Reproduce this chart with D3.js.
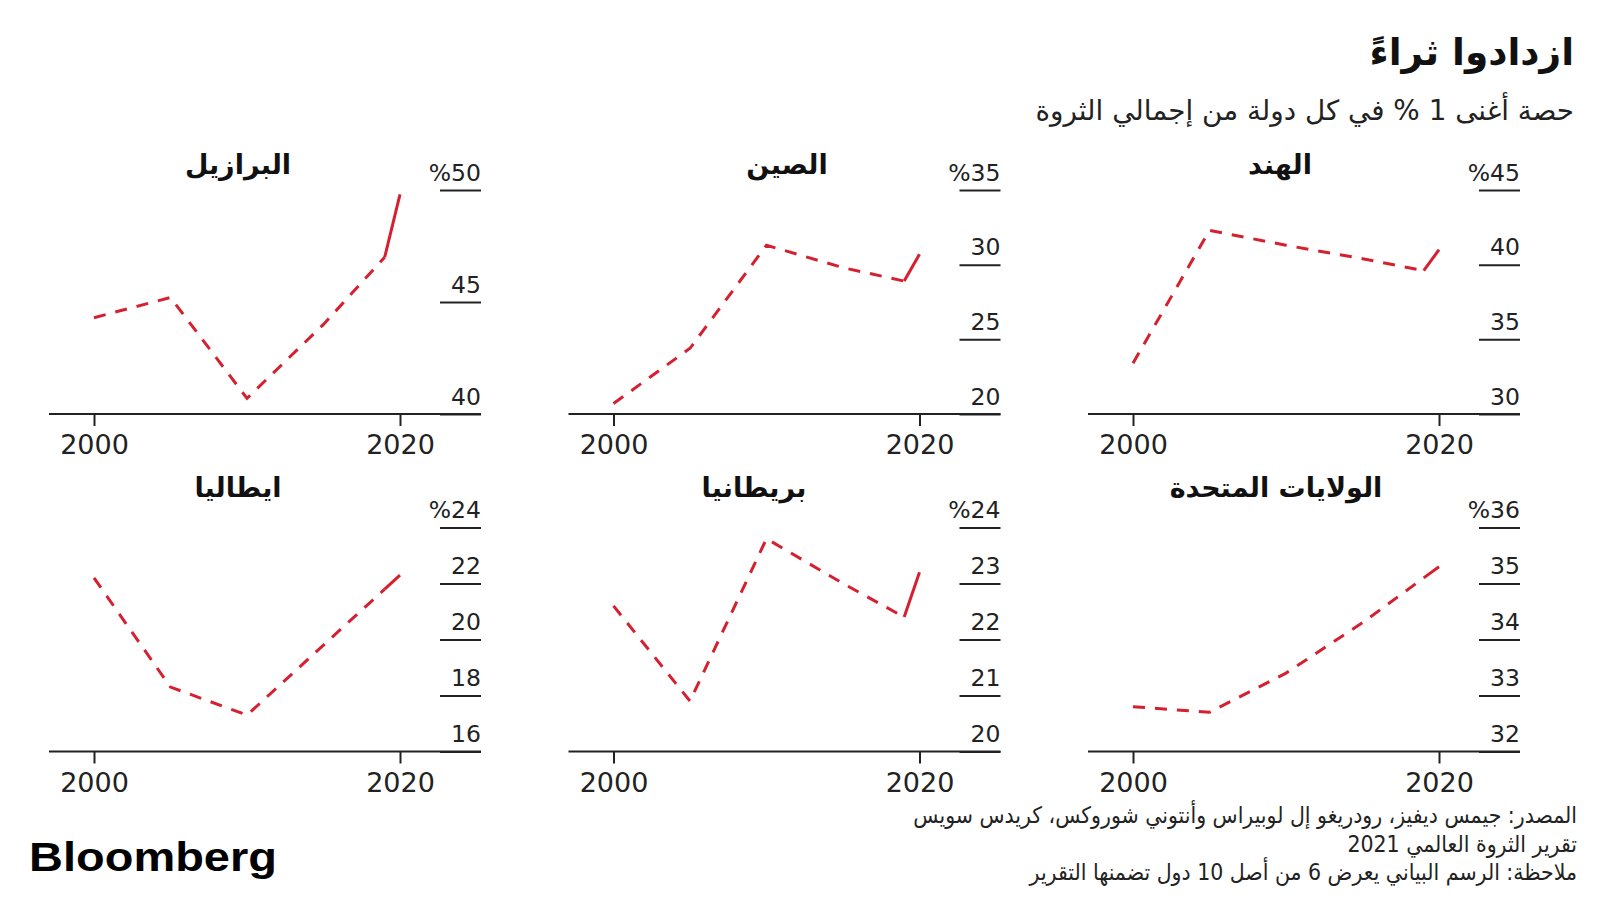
<!DOCTYPE html>
<html><head><meta charset="utf-8">
<script src="https://cdn.jsdelivr.net/npm/d3@7"></script>
<style>
body{margin:0;background:#fff}
svg{display:block}
text{fill:#222}
</style>
</head><body>
<svg id="chart" width="1600" height="900"></svg>
<script>
// ---------- data ----------
const titleText = "ازدادوا ثراءً";
const subtitleText = "حصة أغنى 1 % في كل دولة من إجمالي الثروة";
const notes = [
  "المصدر: جيمس ديفيز، رودريغو إل لوبيراس وأنتوني شوروكس، كريدس سويس",
  "تقرير الثروة العالمي 2021",
  "ملاحظة: الرسم البياني يعرض 6 من أصل 10 دول تضمنها التقرير"
];
const countries = ["الهند", "الصين", "البرازيل", "الولايات المتحدة", "بريطانيا", "ايطاليا"];
const years = [2000, 2005, 2010, 2015, 2019, 2020];
const xTickYears = [2000, 2020];

const indiaValues  = [33.4, 42.3, 41.3, 40.4, 39.6, 41.0];
const chinaValues  = [20.7, 24.4, 31.3, 29.8, 28.9, 30.7];
const brazilValues = [44.3, 45.2, 40.7, 44.0, 47.0, 49.8];
const usValues     = [32.8, 32.7, 33.4, 34.3, 35.1, 35.3];
const ukValues     = [22.6, 20.9, 23.8, 23.0, 22.4, 23.2];
const italyValues  = [22.2, 18.3, 17.3, 19.8, 21.8, 22.3];

const indiaTicks  = [30, 35, 40, 45];
const chinaTicks  = [20, 25, 30, 35];
const brazilTicks = [40, 45, 50];
const usTicks     = [32, 33, 34, 35, 36];
const ukTicks     = [20, 21, 22, 23, 24];
const italyTicks  = [16, 18, 20, 22, 24];

// ---------- layout ----------
const RED = "#d5202f";
const INK = "#222";
const colX2000 = [94, 613.5, 1133];   // pixel of year 2000 per column
const spanX = 306;                    // 2000 -> 2020 width
const rowAxisY = [414, 751.5];
const plotH = 224;
const rowTitleY = [174, 497];

const panels = [
  {name: countries[0], values: indiaValues,  ticks: indiaTicks,  col: 2, row: 0, tx: 1280},
  {name: countries[1], values: chinaValues,  ticks: chinaTicks,  col: 1, row: 0, tx: 787},
  {name: countries[2], values: brazilValues, ticks: brazilTicks, col: 0, row: 0, tx: 238},
  {name: countries[3], values: usValues,     ticks: usTicks,     col: 2, row: 1, tx: 1276},
  {name: countries[4], values: ukValues,     ticks: ukTicks,     col: 1, row: 1, tx: 754},
  {name: countries[5], values: italyValues,  ticks: italyTicks,  col: 0, row: 1, tx: 238}
];

const svg = d3.select("#chart");
const AR = "'DejaVu Sans', sans-serif";
const NUM = "'DejaVu Sans', sans-serif";

// Header
svg.append("text").attr("x", 1574).attr("y", 65)
  .attr("direction", "rtl").attr("text-anchor", "start")
  .style("font-family", AR).style("font-weight", "bold").style("font-size", "37.5px")
  .style("fill", "#111").text(titleText);
svg.append("text").attr("x", 1574).attr("y", 120)
  .attr("direction", "rtl").attr("text-anchor", "start")
  .style("font-family", AR).style("font-size", "27.8px")
  .text(subtitleText);

panels.forEach(p => {
  const x0 = colX2000[p.col];
  const axisY = rowAxisY[p.row];
  const x = d3.scaleLinear().domain([2000, 2020]).range([x0, x0 + spanX]);
  const y = d3.scaleLinear().domain([p.ticks[0], p.ticks[p.ticks.length - 1]])
    .range([axisY, axisY - plotH]);
  const g = svg.append("g");
  const right = x(2020) + 81;

  // y axis: short underlines with labels above, right aligned
  const yAxis = d3.axisLeft(y).tickValues(p.ticks).tickSize(41).tickPadding(0)
    .tickFormat((d, i) => i === p.ticks.length - 1 ? "%" + d : d);
  const ya = g.append("g").attr("transform", `translate(${right},0)`).call(yAxis);
  ya.select(".domain").remove();
  ya.selectAll(".tick line").attr("stroke", INK).attr("stroke-width", 2);
  ya.selectAll(".tick text")
    .attr("x", 0).attr("dy", null).attr("y", -10)
    .attr("text-anchor", "end").attr("direction", "ltr")
    .style("font-family", NUM).style("font-size", "23.5px").style("fill", INK);

  // x axis
  const xAxis = d3.axisBottom(x).tickValues(xTickYears).tickSize(12).tickPadding(8)
    .tickFormat(d3.format("d"));
  const xa = g.append("g").attr("transform", `translate(0,${axisY})`).call(xAxis);
  xa.select(".domain").remove();
  xa.selectAll(".tick line").attr("stroke", INK).attr("stroke-width", 2);
  xa.selectAll(".tick text").attr("dy", null).attr("y", 40)
    .style("font-family", NUM).style("font-size", "27px").style("fill", INK);
  g.append("line")
    .attr("x1", x(2000) - 45).attr("x2", right)
    .attr("y1", axisY).attr("y2", axisY)
    .attr("stroke", INK).attr("stroke-width", 2.2);

  // series
  const pts = years.map((yr, i) => ({yr, v: p.values[i]}));
  const line = d3.line().x(d => x(d.yr)).y(d => y(d.v));
  g.append("path").datum(pts.slice(0, years.length - 1))
    .attr("d", line).attr("fill", "none").attr("stroke", RED)
    .attr("stroke-width", 3).attr("stroke-dasharray", "12,10");
  g.append("path").datum(pts.slice(years.length - 2))
    .attr("d", line).attr("fill", "none").attr("stroke", RED)
    .attr("stroke-width", 3);

  // title
  g.append("text").attr("x", p.tx).attr("y", rowTitleY[p.row])
    .attr("text-anchor", "middle").attr("direction", "rtl")
    .style("font-family", AR).style("font-weight", "bold").style("font-size", "27px")
    .style("fill", "#111").text(p.name);
});

// footnotes
notes.forEach((t, i) => {
  svg.append("text").attr("x", 1577).attr("y", 823 + i * 28.5)
    .attr("direction", "rtl").attr("text-anchor", "start")
    .style("font-family", "'DejaVu Sans Condensed','DejaVu Sans',sans-serif")
    .style("font-size", "22.8px").style("fill", INK).text(t);
});

// logo
svg.append("text").attr("x", 29).attr("y", 871)
  .attr("textLength", 248).attr("lengthAdjust", "spacingAndGlyphs")
  .style("font-family", "'Liberation Sans', Arial, sans-serif")
  .style("font-weight", "bold").style("font-size", "41px").style("fill", "#000")
  .text("Bloomberg");
</script>
</body></html>
